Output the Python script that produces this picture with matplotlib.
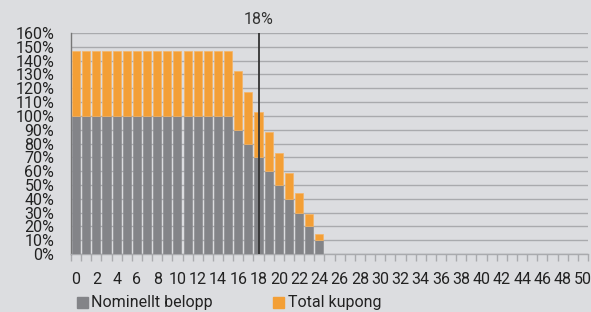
import matplotlib
matplotlib.use("Agg")
import matplotlib.pyplot as plt
import matplotlib.patches as mpatches
import numpy as np

plt.rcParams['font.family'] = ['Roboto', 'DejaVu Sans']

categories = list(range(0, 51))
nominal = [100]*16 + [90, 80, 70, 60, 50, 40, 30, 20, 10]
coupon = [47]*16 + [42.3, 37.6, 32.9, 28.2, 23.4, 18.7, 14.1, 9.3, 4.5]
marker_x = 18
marker_label = "18%"
yticks = list(range(0, 161, 10))
series_names = ["Nominellt belopp", "Total kupong"]

bg = "#dcdde0"
gray = "#838488"
orange = "#f39f36"
fs = 11.5

fig = plt.figure(figsize=(5.91, 3.12), dpi=100, facecolor=bg)
ax = fig.add_axes([71/591, 1-254/312, (588-71)/591, (254-33)/312], facecolor=bg)

x = np.arange(len(nominal))
ax.bar(x, nominal, width=0.8, color=gray, edgecolor="#8e8f93", linewidth=0.5, zorder=3)
ax.bar(x, coupon, bottom=nominal, width=0.8, color=orange, edgecolor="#f6b567", linewidth=0.5, zorder=3)

ax.axvline(marker_x, color="#333333", linewidth=1.3, zorder=4)
ax.text(marker_x, 164, marker_label, ha="center", va="bottom", fontsize=fs, color="#333333")

ax.set_xlim(-0.5, len(categories) - 0.5)
ax.set_ylim(0, 160)
ax.set_yticks(yticks)
ax.set_yticklabels([f"{v}%" for v in yticks], fontsize=fs, color="#222222")
ax.tick_params(axis='y', length=0, pad=12)
ax.yaxis.grid(True, color="#a9aaad", linewidth=1, zorder=0)

ax.set_xticks(np.arange(-0.5, len(categories)), minor=False)
ax.set_xticklabels([])
ax.tick_params(axis='x', which='major', length=5, color="#a9aaad", width=1)
ax.set_xticks([c for c in categories if c % 2 == 0], minor=True)
ax.set_xticklabels([str(c) for c in categories if c % 2 == 0], minor=True, fontsize=fs, color="#222222")
ax.tick_params(axis='x', which='minor', length=0, pad=13)

for s in ['top', 'right']:
    ax.spines[s].set_visible(False)
ax.spines['left'].set_color("#777777")
ax.spines['left'].set_linewidth(1)
ax.spines['bottom'].set_color("#a9aaad")
ax.spines['bottom'].set_linewidth(1)

# legend
fig.patches.append(mpatches.Rectangle((77/591, 1-308/312), 11/591, 11/312, transform=fig.transFigure, color=gray))
fig.text(91/591, 1-303/312, series_names[0], va="center", ha="left", fontsize=fs, color="#222222")
fig.patches.append(mpatches.Rectangle((273/591, 1-308/312), 11/591, 11/312, transform=fig.transFigure, color=orange))
fig.text(288/591, 1-303/312, series_names[1], va="center", ha="left", fontsize=fs, color="#222222")

fig.savefig("out.png", dpi=100, facecolor=bg)
